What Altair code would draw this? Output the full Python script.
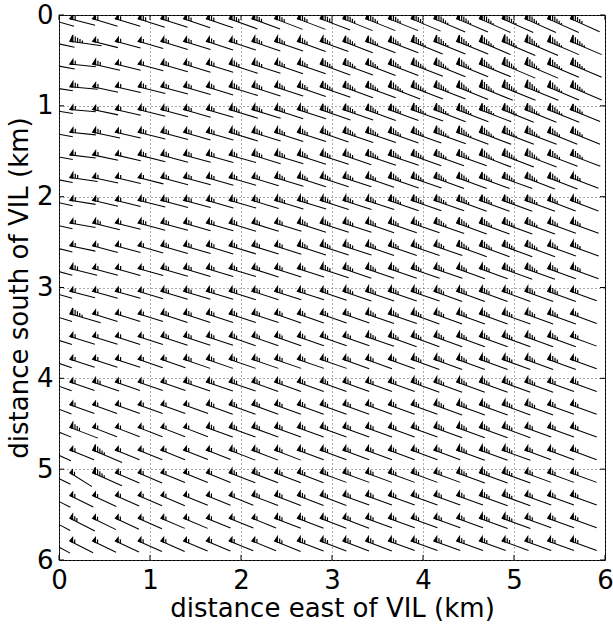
import math
import altair as alt
import pandas as pd

# station positions (km)
x_km = [-0.13, 0.12, 0.37, 0.62, 0.87, 1.12, 1.37, 1.62, 1.87, 2.12, 2.37, 2.62,
        2.87, 3.12, 3.37, 3.62, 3.87, 4.12, 4.37, 4.62, 4.87, 5.12, 5.37, 5.62]
y_km = [0.04, 0.29, 0.54, 0.79, 1.04, 1.29, 1.54, 1.79, 2.04, 2.29, 2.54, 2.79,
        3.04, 3.29, 3.54, 3.79, 4.04, 4.29, 4.54, 4.79, 5.04, 5.29, 5.54, 5.79]

# speed class per station (one string per row, one digit per column)
speed_rows = [
    "433344445555666667777776",
    "463334444555566677778877",
    "434334445555666677778877",
    "343344445555666777788877",
    "333344445555666677777776",
    "334344445555566667777766",
    "333344444555556666677766",
    "343334444455555666666665",
    "333344444455555666666655",
    "334344444445555556666655",
    "333334444445555555666655",
    "343334444444555555556655",
    "333334444444455555555554",
    "363334444444445555555554",
    "333334444444445555555554",
    "333333444444444455555554",
    "334333444444444455555544",
    "333333344444444445555544",
    "353333344444444445555444",
    "336333334444444444555444",
    "336333334444444444555444",
    "333333333444444444455444",
    "343333333344444444455444",
    "333333333344444444444444",
]

# direction of each shaft, degrees below horizontal (one string per row)
angle_rows = [
    "16 15 17 17 18 18 19 19 20 20 21 21 21 22 22 22 23 23 23 24 24 24 24 24",
    "12 8 14 15 16 17 17 18 18 19 19 20 20 21 21 21 22 22 22 23 23 23 23 23",
    "10 6 13 14 15 16 17 17 18 18 19 19 20 20 21 21 21 22 22 22 23 23 23 23",
    "9 5 12 13 14 15 16 17 17 18 18 19 19 20 20 21 21 21 22 22 22 22 23 23",
    "9 5 12 13 14 15 16 16 17 17 18 18 19 19 20 20 20 21 21 21 22 22 22 22",
    "10 6 12 13 14 15 16 16 17 17 18 18 19 19 19 20 20 20 21 21 21 21 22 22",
    "10 7 12 13 14 15 15 16 16 17 17 18 18 19 19 19 20 20 20 21 21 21 21 21",
    "11 8 12 13 14 15 15 16 16 17 17 18 18 18 19 19 19 20 20 20 20 21 21 21",
    "12 9 13 14 14 15 15 16 16 17 17 17 18 18 18 19 19 19 20 20 20 20 21 21",
    "13 10 14 14 15 15 16 16 17 17 17 18 18 18 19 19 19 19 20 20 20 20 20 20",
    "14 12 15 15 16 16 16 17 17 17 18 18 18 18 19 19 19 19 20 20 20 20 20 20",
    "15 14 15 16 16 16 17 17 17 18 18 18 18 19 19 19 19 19 20 20 20 20 20 20",
    "16 15 16 16 17 17 17 17 18 18 18 18 19 19 19 19 19 20 20 20 20 20 20 20",
    "17 16 17 17 17 18 18 18 18 18 19 19 19 19 19 19 20 20 20 20 20 20 20 20",
    "18 17 17 18 18 18 18 18 19 19 19 19 19 19 19 20 20 20 20 20 20 20 20 20",
    "19 18 18 18 19 19 19 19 19 19 19 19 19 20 20 20 20 20 20 20 20 20 20 20",
    "20 19 19 19 19 19 19 19 19 20 20 20 20 20 20 20 20 20 20 20 20 20 20 20",
    "21 20 20 20 20 20 20 20 20 20 20 20 20 20 20 20 20 20 20 20 20 20 20 20",
    "22 21 21 21 21 21 21 20 20 20 20 20 20 20 20 20 20 20 20 20 20 20 20 20",
    "24 22 23 22 22 22 21 21 21 21 21 20 20 20 20 20 20 20 20 20 20 20 20 20",
    "26 32 24 23 23 22 22 22 21 21 21 21 20 20 20 20 20 20 20 20 20 20 20 20",
    "27 26 25 24 23 23 22 22 22 21 21 21 21 20 20 20 20 20 20 20 20 20 20 20",
    "28 27 26 25 24 23 23 22 22 22 21 21 21 21 20 20 20 20 20 20 20 20 20 20",
    "28 27 26 25 24 24 23 23 22 22 22 21 21 21 21 20 20 20 20 20 20 20 20 20",
]

tick_values = [0, 1, 2, 3, 4, 5, 6]


def shaft(v, ang):
    """SVG path (pixel units at symbol size 4) of a barb's shaft."""
    a = math.radians(ang)
    L = 20 + 2 * v
    return f"M0,0L{L * math.cos(a):.2f},{L * math.sin(a):.2f}"


def feathers(v, ang):
    """SVG path (pixel units at symbol size 4) of a barb's flag and ticks."""
    a = math.radians(ang)
    c, s = math.cos(a), math.sin(a)
    fh = 2.5 + 0.7 * v
    fw = 3.0
    n = max(1, min(5, v - 2))
    parts = [f"M0,0L{fw * c:.2f},{fw * s:.2f}L{fw * c:.2f},{fw * s - fh:.2f}Z"]
    for i in range(n):
        d = fw + 2.4 * (i + 1)
        h = fh * (0.85 - 0.15 * i)
        px, py = d * c, d * s
        parts.append(f"M{px:.2f},{py:.2f}L{px:.2f},{py - h:.2f}")
    return "".join(parts)


records = []
for j, yv in enumerate(y_km):
    angs = [int(t) for t in angle_rows[j].split()]
    for i, xv in enumerate(x_km):
        v = int(speed_rows[j][i])
        records.append({"x": xv, "y": yv, "speed": v, "dir": angs[i],
                        "shaft": shaft(v, angs[i]),
                        "feathers": feathers(v, angs[i])})
df = pd.DataFrame(records)
ticks_df = pd.DataFrame({"t": tick_values})

W, H = 546, 545
FONT = "DejaVu Sans"

xscale = alt.Scale(domain=[0, 6], nice=False, zero=False)
yscale = alt.Scale(domain=[0, 6], nice=False, zero=False, reverse=True)

xaxis = alt.Axis(values=tick_values, format="d", title="distance east of VIL (km)",
                 grid=True, gridDash=[1, 3], gridColor="#555", gridWidth=1,
                 ticks=False, domain=False, labelFlush=False, labelPadding=7,
                 labelFont=FONT, labelFontSize=26, labelColor="black",
                 titleFont=FONT, titleFontSize=26, titleFontWeight="normal",
                 titleColor="black", titleBaseline="alphabetic", titleY=56)
yaxis = alt.Axis(values=tick_values, format="d", title="distance south of VIL (km)",
                 grid=True, gridDash=[1, 3], gridColor="#555", gridWidth=1,
                 ticks=False, domain=False, labelFlush=False, labelPadding=6,
                 labelFont=FONT, labelFontSize=26, labelColor="black",
                 titleFont=FONT, titleFontSize=26, titleFontWeight="normal",
                 titleColor="black", titleBaseline="alphabetic", titleAngle=270,
                 titleX=-32, titleY=H / 2, titleAlign="center")

base = alt.Chart(df).encode(
    x=alt.X("x:Q", scale=xscale, axis=xaxis),
    y=alt.Y("y:Q", scale=yscale, axis=yaxis),
)
shafts = base.mark_point(
    filled=False, stroke="black", strokeWidth=1.05, size=4, opacity=1, clip=True
).encode(shape=alt.Shape("shaft:N", scale=None, legend=None))
flags = base.mark_point(
    filled=True, fill="black", stroke="black", strokeWidth=1.2, size=4,
    opacity=1, clip=True
).encode(shape=alt.Shape("feathers:N", scale=None, legend=None))

tick_base = alt.Chart(ticks_df).mark_rule(color="black", strokeWidth=1)
bottom_ticks = tick_base.encode(x=alt.X("t:Q", scale=xscale, axis=xaxis),
                                y=alt.value(H - 5), y2=alt.value(H))
top_ticks = tick_base.encode(x=alt.X("t:Q", scale=xscale, axis=xaxis),
                             y=alt.value(0), y2=alt.value(5))
left_ticks = tick_base.encode(y=alt.Y("t:Q", scale=yscale, axis=yaxis),
                              x=alt.value(0), x2=alt.value(5))
right_ticks = tick_base.encode(y=alt.Y("t:Q", scale=yscale, axis=yaxis),
                               x=alt.value(W - 5), x2=alt.value(W))

chart = alt.layer(shafts, flags, bottom_ticks, top_ticks, left_ticks,
                  right_ticks).properties(
    width=W, height=H,
    autosize=alt.AutoSizeParams(type="none"),
    padding={"left": 59, "top": 15, "right": 8, "bottom": 68},
    background="white",
).configure_view(stroke="black", strokeWidth=1)

chart.save("out.html", embed_options={"renderer": "svg", "actions": False})
